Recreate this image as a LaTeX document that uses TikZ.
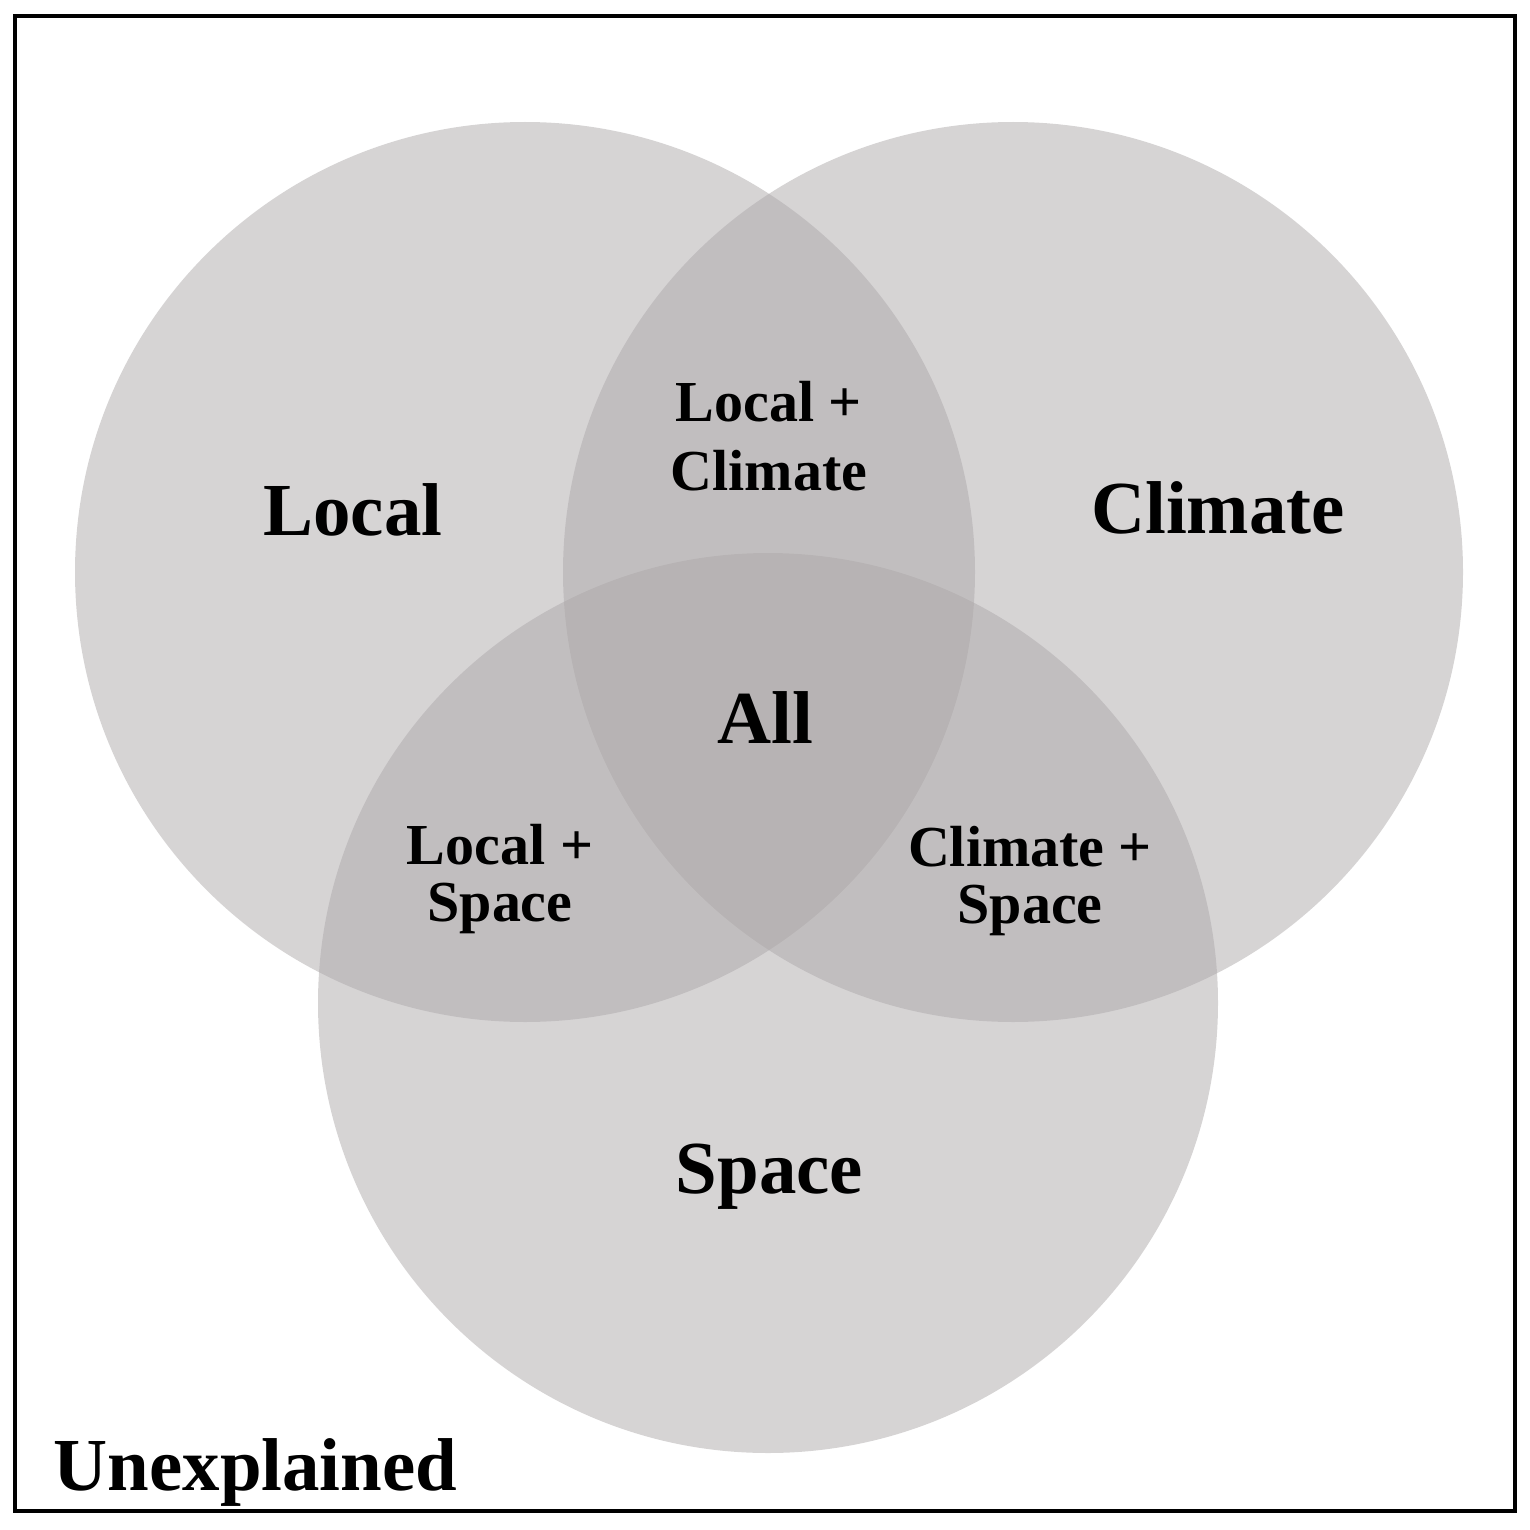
\documentclass[tikz,border=0pt]{standalone}
\usepackage{fontspec}
\setmainfont{Liberation Serif}
\usepackage{tikz}
\usetikzlibrary{positioning, calc}
\definecolor{setgray}{RGB}{173,169,170}

\begin{document}
\begin{tikzpicture}[
  setdisc/.style={fill=setgray, fill opacity=0.5},
  biglabel/.style={font=\fontsize{21.3}{25}\selectfont\bfseries, inner sep=0pt},
  pairlabel/.style={font=\fontsize{16.5}{16}\selectfont\bfseries, inner sep=0pt, align=center}]
  \useasboundingbox (0,0) rectangle (15.3,-15.3);
  % outer frame (the whole sample)
  \draw[line width=0.04cm] (0.15,-0.16) rectangle (15.15,-15.11);
  % the three sets
  \coordinate (localc) at (5.25,-5.72);
  \coordinate (climatec) at (10.13,-5.72);
  \coordinate (spacec) at (7.68,-10.03);
  \fill[setdisc] (localc) circle (4.5);
  \fill[setdisc] (climatec) circle (4.5);
  \fill[setdisc] (spacec) circle (4.5);
  % labels
  \node[biglabel, anchor=base] (local) at (3.53,-5.35) {Local};
  \node[biglabel, anchor=base] (climate) at (12.18,-5.33) {Climate};
  \node[biglabel, anchor=base] (space) at (7.695,-11.93) {Space};
  \node[biglabel, anchor=base] (all) at (7.655,-7.43) {All};
  \node[biglabel, anchor=base west] (unexplained) at (0.53,-14.90) {Unexplained};
  \node[pairlabel, font=\fontsize{16.5}{19.35}\selectfont\bfseries, anchor=base] (localclimate) at (7.69,-4.90) {Local +\\Climate};
  \node[pairlabel, anchor=base] (localspace) at (5.0,-9.21) {Local +\\Space};
  \node[pairlabel, anchor=base] (climatespace) at (10.3,-9.23) {Climate +\\Space};
\end{tikzpicture}
\end{document}
